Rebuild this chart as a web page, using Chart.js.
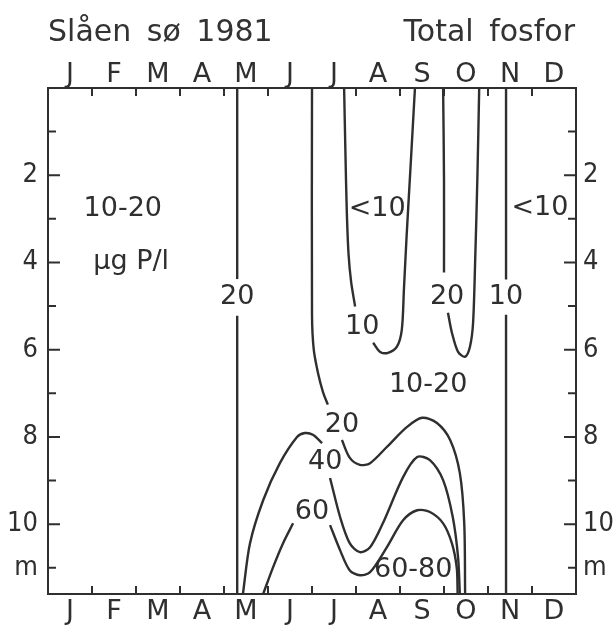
<!DOCTYPE html>
<html>
<head>
<meta charset="utf-8">
<script src="https://cdn.jsdelivr.net/npm/chart.js@4.4.0/dist/chart.umd.min.js"></script>
<style>
  html, body { margin: 0; padding: 0; background: #fff; }
  #wrap { position: relative; width: 615px; height: 626px; }
  #title {
    position: absolute; left: 48px; right: 40px; top: 13px;
    display: flex; justify-content: space-between;
    font: 30px "DejaVu Sans", sans-serif; color: #333; word-spacing: 6px;
  }
</style>
</head>
<body>
<div id="wrap">
  <canvas id="chart"></canvas>
  <div id="title"><span>Slåen sø 1981</span><span>Total fosfor</span></div>
</div>
<script>
const months = ['J', 'F', 'M', 'A', 'M', 'J', 'J', 'A', 'S', 'O', 'N', 'D'];
const depthLabels = [2, 4, 6, 8, 10];
const depthUnit = 'm';
const maxDepth = 11.6;

// isopleth pieces as [month, depth m]; each piece stops where its label sits
const p20May1 = [[4.3, 0], [4.3, 4.38]];
const p20May2 = [[4.3, 5.22], [4.3, maxDepth]];
const p20Jul1 = [[6.0, 0], [6.0, 5.2], [6.04, 6.0], [6.14, 6.55], [6.25, 6.97], [6.36, 7.26]];
const p20Jul2 = [[6.68, 8.07], [6.86, 8.48], [7.09, 8.64], [7.32, 8.6], [7.7, 8.23], [8.16, 7.77],
                 [8.5, 7.56], [8.84, 7.68], [9.14, 8.07], [9.36, 8.83], [9.46, 9.98], [9.48, maxDepth]];
const p40a = [[4.43, maxDepth], [4.59, 10.44], [4.89, 9.45], [5.27, 8.6], [5.66, 8.0], [5.84, 7.91],
              [6.02, 7.95], [6.23, 8.14]];
const p40b = [[6.41, 8.94], [6.64, 9.84], [6.86, 10.44], [7.09, 10.64], [7.32, 10.53], [7.61, 9.98],
              [8.07, 8.92], [8.39, 8.46], [8.68, 8.53], [8.98, 8.99], [9.2, 9.84], [9.32, 10.76], [9.36, maxDepth]];
const p60a = [[4.89, maxDepth], [5.11, 11.0], [5.34, 10.44], [5.57, 9.98]];
const p60b = [[6.41, 10.02], [6.64, 10.6], [6.86, 11.06], [7.09, 11.17], [7.32, 11.1], [7.7, 10.53],
              [8.07, 9.91], [8.39, 9.68], [8.68, 9.72], [8.98, 9.98], [9.18, 10.44], [9.29, 11.0], [9.31, maxDepth]];
const p10Aug1 = [[6.73, 0], [6.76, 1.5], [6.79, 2.8], [6.83, 3.8], [6.89, 4.45], [6.98, 5.01]];
const p10Aug2 = [[7.39, 5.84], [7.55, 6.05], [7.73, 6.07], [7.93, 5.93], [8.04, 5.55], [8.09, 4.6],
                 [8.15, 3.4], [8.24, 1.8], [8.34, 0]];
const p20Oct1 = [[8.98, 0], [9.0, 2.09], [9.0, 4.23]];
const p20Oct2 = [[9.09, 5.15], [9.18, 5.61], [9.32, 6.05], [9.48, 6.16], [9.59, 5.93], [9.66, 5.4],
                 [9.71, 3.9], [9.76, 2.0], [9.8, 0]];
const p10Nov1 = [[10.41, 0], [10.41, 4.39]];
const p10Nov2 = [[10.41, 5.2], [10.41, maxDepth]];

const pieces = [p20May1, p20May2, p20Jul1, p20Jul2, p40a, p40b, p60a, p60b,
                p10Aug1, p10Aug2, p20Oct1, p20Oct2, p10Nov1, p10Nov2];

// isopleth values written into the gaps: [level, month, depth]
const levelTags = [[20, 4.3, 4.8], [10, 7.14, 5.47], [20, 9.07, 4.78], [10, 10.41, 4.78],
                   [20, 6.68, 7.72], [40, 6.3, 8.57], [60, 6.0, 9.72]];
// range notes inside the fields: [text, month, depth]
const zoneTags = [['10-20', 1.7, 2.78], ['µg P/l', 1.89, 3.98], ['<10', 7.48, 2.78],
                  ['<10', 11.18, 2.74], ['10-20', 8.64, 6.8], ['60-80', 8.3, 11.06]];

const ink = '#2f2f2f';
const face = '"DejaVu Sans", sans-serif';
const narrow = '"DejaVu Sans Condensed", "DejaVu Sans", sans-serif';

const frame = {
  id: 'frame',
  afterDatasetsDraw(chart) {
    const { ctx, chartArea: a, scales } = chart;
    ctx.save();
    ctx.strokeStyle = ink;
    ctx.lineWidth = 2;
    ctx.beginPath();
    for (let m = 1; m < months.length; m++) {
      const x = scales.x.getPixelForValue(m);
      ctx.moveTo(x, a.top); ctx.lineTo(x, a.top + 8);
      ctx.moveTo(x, a.bottom); ctx.lineTo(x, a.bottom - 8);
    }
    for (let d = 1; d <= 11; d++) {
      const y = scales.y.getPixelForValue(d);
      const len = d % 2 ? 8 : 12;
      ctx.moveTo(a.left, y); ctx.lineTo(a.left + len, y);
      ctx.moveTo(a.right, y); ctx.lineTo(a.right - len, y);
    }
    ctx.stroke();

    ctx.fillStyle = ink;
    ctx.textAlign = 'center';
    ctx.textBaseline = 'middle';
    ctx.font = '27px ' + face;
    levelTags.forEach(([lv, m, d]) => {
      ctx.fillText(String(lv), scales.x.getPixelForValue(m), scales.y.getPixelForValue(d));
    });
    zoneTags.forEach(([t, m, d]) => {
      ctx.fillText(t, scales.x.getPixelForValue(m), scales.y.getPixelForValue(d));
    });
    ctx.restore();
  }
};

const monthAxis = (pos, h, pad) => ({
  type: 'linear', position: pos, min: 0, max: 12,
  grid: { display: false, drawTicks: false },
  border: { display: true, color: ink, width: 2 },
  afterBuildTicks: s => { s.ticks = months.map((_, i) => ({ value: i + 0.5 })); },
  afterFit: s => { s.height = h; },
  ticks: {
    padding: pad, color: ink, font: { family: face, size: 27 },
    callback: (v, i) => months[i]
  }
});

const depthAxis = (pos, w, pad) => ({
  type: 'linear', position: pos, reverse: true, min: 0, max: maxDepth,
  grid: { display: false, drawTicks: false },
  border: { display: true, color: ink, width: 2 },
  afterBuildTicks: s => { s.ticks = depthLabels.concat([11]).map(v => ({ value: v })); },
  afterFit: s => { s.width = w; },
  ticks: {
    padding: pad, color: ink, font: { family: narrow, size: 27 },
    callback: v => (v === 11 ? depthUnit : String(v))
  }
});

new Chart(document.getElementById('chart'), {
  type: 'scatter',
  data: {
    datasets: pieces.map(p => ({
      data: p.map(([x, y]) => ({ x, y })),
      showLine: true,
      borderColor: ink,
      borderWidth: 2.4,
      pointRadius: 0,
      tension: 0.3,
      fill: false
    }))
  },
  options: {
    responsive: true,
    maintainAspectRatio: false,
    animation: false,
    layout: { padding: 0 },
    plugins: { legend: { display: false }, tooltip: { enabled: false } },
    scales: {
      x: monthAxis('bottom', 32, 2),
      x2: monthAxis('top', 88, -3),
      y: depthAxis('left', 48, 10),
      y2: depthAxis('right', 39, 7)
    }
  },
  plugins: [frame]
});
</script>
</body>
</html>
